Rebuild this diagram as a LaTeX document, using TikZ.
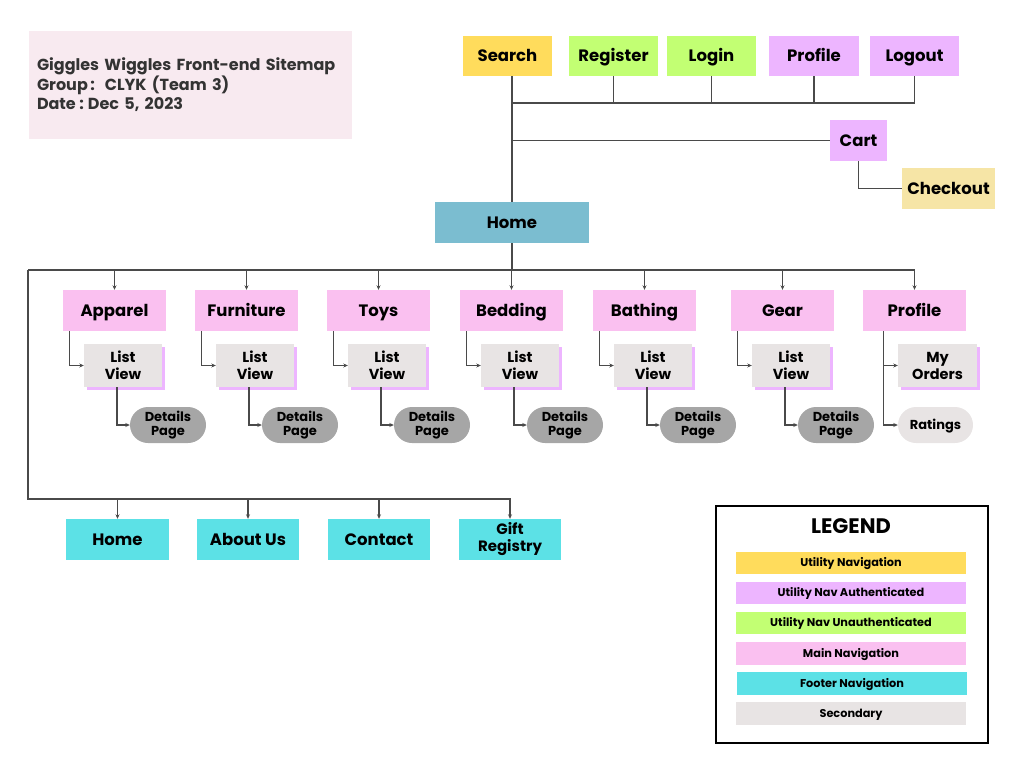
\documentclass[tikz,border=0pt]{standalone}
\usepackage{fontspec}
\setmainfont{Poppins}
\usetikzlibrary{arrows.meta,shadows}
\definecolor{titlebg}{HTML}{F8EAF0}
\definecolor{uyellow}{HTML}{FFDC5C}
\definecolor{ugreen}{HTML}{C2FF73}
\definecolor{upurple}{HTML}{EDB5FF}
\definecolor{mpink}{HTML}{FAC0F0}
\definecolor{fcyan}{HTML}{5CE1E6}
\definecolor{homeblue}{HTML}{7BBDD0}
\definecolor{chkcol}{HTML}{F6E5A6}
\definecolor{secgrey}{HTML}{E8E4E4}
\definecolor{pillgrey}{HTML}{A6A6A6}
\definecolor{lncol}{HTML}{4A4A4A}
\definecolor{titletext}{HTML}{333333}
\newcommand{\rbox}[7]{\node[#6, minimum width={(#4-(#2))*1pt}, minimum height={(#5-(#3))*1pt}] (#1) at ({(#2+#4)/2},{(#3+#5)/2}) {#7};}
\tikzset{
  nb/.style={inner sep=0pt, align=center, text=black, font=\bfseries\fontsize{16.5}{18}\selectfont, text height=11.5pt, text depth=0pt},
  multi/.style={text height={}, text depth={}},
  mainb/.style={nb, fill=mpink},
  secb/.style={nb, multi, fill=secgrey, font=\bfseries\fontsize{14.5}{17}\selectfont,
     general shadow={fill=upurple, shadow xshift=3pt, shadow yshift=-3pt}},
  pillb/.style={nb, multi, fill=pillgrey, rounded corners=18pt, font=\bfseries\fontsize{13}{14.5}\selectfont},
  footb/.style={nb, fill=fcyan},
  legb/.style={nb, font=\bfseries\fontsize{11.3}{13}\selectfont, text height=7.9pt},
  ln/.style={draw=lncol, line width=1.2pt},
  arr/.style={ln, -{Stealth[length=4.5pt,width=4pt]}},
}
\begin{document}
\begin{tikzpicture}[x=1pt,y=-1pt]
\useasboundingbox (0,0) rectangle (1024,768);
% title
\node[fill=titlebg, minimum width=323pt, minimum height=108pt, text width=307pt, inner xsep=8pt, inner ysep=0pt, align=left, text=titletext,
  font=\bfseries\fontsize{16}{19.5}\selectfont] (title) at (190.5,85) {Giggles Wiggles Front-end Sitemap\\Group\hspace{2.5pt}:\hspace{10pt}CLYK (Team 3)\\Date\hspace{3.5pt}:\hspace{4pt}Dec 5, 2023};
% utility nav
\rbox{search}{463}{36}{552}{76}{nb, fill=uyellow}{Search}
\rbox{register}{569}{36}{658}{76}{nb, fill=ugreen}{Register}
\rbox{login}{667}{36}{756}{76}{nb, fill=ugreen}{Login}
\rbox{uprofile}{769}{36}{859}{76}{nb, fill=upurple}{Profile}
\rbox{logout}{870}{36}{959}{76}{nb, fill=upurple}{Logout}
\rbox{cart}{830}{120}{887}{161}{nb, fill=upurple}{Cart}
\rbox{checkout}{902}{168}{995}{209}{nb, fill=chkcol}{Checkout}
\rbox{home}{435}{202}{589}{243}{nb, fill=homeblue}{Home}
\coordinate (hub) at (512,103);
\draw[ln] (search.south -| home.north) -- (home.north);
\draw[ln] (hub) -| (logout.south);
\draw[ln] (register.south) -- (register.south |- hub);
\draw[ln] (login.south) -- (login.south |- hub);
\draw[ln] (uprofile.south) -- (uprofile.south |- hub);
\draw[ln] (home.north |- cart.west) -- (cart.west);
\draw[ln] (cart.south) |- (checkout.west);
% main navigation
\coordinate (bl) at (28,270);
\coordinate (fb) at (28,499);
\draw[ln] (home.south) -- (home.south |- bl);
\foreach \L/\t/\n in {63/Apparel/1,195/Furniture/2,327/Toys/3,460/Bedding/4,593/Bathing/5,731/Gear/6}{
  \rbox{m\n}{\L}{290}{\L+103}{331}{mainb}{\t}
  \rbox{lv\n}{\L+21}{344}{\L+99}{387}{secb}{List\\View}
  \rbox{dp\n}{\L+67}{407}{\L+143}{443}{pillb}{Details\\Page}
  \draw[arr] (m\n.north |- bl) -- (m\n.north);
  \draw[arr] ([xshift=7pt]m\n.south west) |- (lv\n.west);
  \draw[arr] ([xshift=-6pt]lv\n.south) |- (dp\n.west);
}
\rbox{mprofile}{863}{290}{966}{331}{mainb}{Profile}
\rbox{orders}{898}{344}{977}{387}{secb}{My\\Orders}
\rbox{ratings}{898}{407}{973}{443}{pillb, fill=secgrey, text height=9.1pt, text depth=0pt}{Ratings}
\draw[arr] (bl) -| (mprofile.north);
\draw[arr] ([xshift=21pt]mprofile.south west) |- (orders.west);
\draw[arr] ([xshift=21pt]mprofile.south west) |- (ratings.west);
% footer
\rbox{fhome}{66}{519}{169}{560}{footb}{Home}
\rbox{about}{197}{519}{299}{560}{footb}{About Us}
\rbox{contact}{328}{519}{430}{560}{footb}{Contact}
\rbox{gift}{459}{519}{561}{560}{footb, multi, font=\bfseries\fontsize{15}{17}\selectfont}{Gift\\Registry}
\draw[arr] (bl) -- (fb) -| (gift.north);
\draw[arr] (fhome.north |- fb) -- (fhome.north);
\draw[arr] (about.north |- fb) -- (about.north);
\draw[arr] (contact.north |- fb) -- (contact.north);
% legend
\rbox{legend}{716}{506}{988}{743}{draw=black, line width=1.5pt}{}
\node[nb, font=\bfseries\fontsize{21}{24}\selectfont, text height=14.7pt] (legtitle) at (851,526) {LEGEND};
\rbox{lg1}{736}{552}{966}{574}{legb, fill=uyellow}{Utility Navigation}
\rbox{lg2}{736}{582}{966}{604}{legb, fill=upurple}{Utility Nav Authenticated}
\rbox{lg3}{736}{612}{966}{634}{legb, fill=ugreen}{Utility Nav Unauthenticated}
\rbox{lg4}{736}{642}{966}{665}{legb, fill=mpink}{Main Navigation}
\rbox{lg5}{737}{672}{967}{695}{legb, fill=fcyan}{Footer Navigation}
\rbox{lg6}{736}{702}{966}{725}{legb, fill=secgrey}{Secondary}
\end{tikzpicture}
\end{document}
